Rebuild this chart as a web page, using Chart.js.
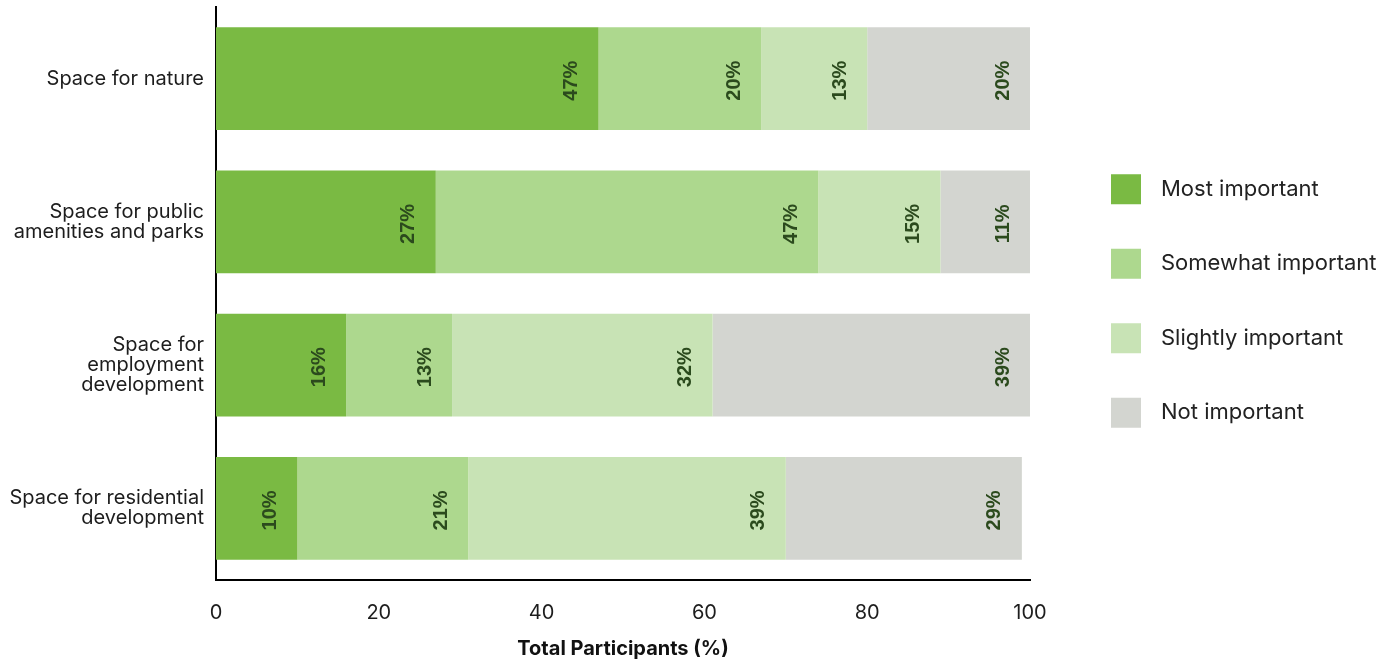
<!DOCTYPE html>
<html><head><meta charset="utf-8">
<script src="https://cdn.jsdelivr.net/npm/chart.js@4.4.1/dist/chart.umd.min.js"></script>
<style>html,body{margin:0;padding:0;background:#fff}#wrap{width:1395px;height:664px;position:relative}</style>
</head><body><div id="wrap"><canvas id="c"></canvas></div>
<script>
const categories = [["Space for nature"],["Space for public","amenities and parks"],["Space for","employment","development"],["Space for residential","development"]];
const seriesNames = ["Most important","Somewhat important","Slightly important","Not important"];
const mostImportant = [47,27,16,10];
const somewhatImportant = [20,47,13,21];
const slightlyImportant = [13,15,32,39];
const notImportant = [20,11,39,29];
const xTickValues = [0,20,40,60,80,100];
const xTitle = "Total Participants (%)";
const colors = ['#7aba43','#add88e','#c8e3b5','#d3d5d0'];

const seriesValues = [mostImportant, somewhatImportant, slightlyImportant, notImportant];

const valueLabels = {
  id: 'valueLabels',
  afterDatasetsDraw(chart) {
    const ctx = chart.ctx;
    ctx.save();
    ctx.font = 'bold 20px "Liberation Sans", Arial, sans-serif';
    ctx.fillStyle = '#2b4a1d';
    ctx.textAlign = 'center';
    ctx.textBaseline = 'middle';
    chart.data.datasets.forEach((ds, i) => {
      const meta = chart.getDatasetMeta(i);
      meta.data.forEach((el, j) => {
        const v = ds.data[j];
        ctx.save();
        ctx.translate(el.x - 27, el.y + 2);
        ctx.rotate(-Math.PI / 2);
        ctx.fillText(v + '%', 0, 0);
        ctx.restore();
      });
    });
    ctx.restore();
  }
};

const sideLegend = {
  id: 'sideLegend',
  afterDraw(chart) {
    const ctx = chart.ctx, ca = chart.chartArea;
    const x0 = ca.right + 81;
    const cy = (ca.top + ca.bottom) / 2 + 7.5;
    const step = 74.5;
    const n = chart.data.datasets.length;
    ctx.save();
    ctx.font = '22px Inter, "Noto Sans", sans-serif';
    ctx.textBaseline = 'middle';
    ctx.textAlign = 'left';
    chart.data.datasets.forEach((ds, i) => {
      const yc = cy + (i - (n - 1) / 2) * step;
      ctx.fillStyle = ds.backgroundColor;
      ctx.fillRect(x0, yc - 15, 30, 30);
      ctx.fillStyle = '#222';
      ctx.fillText(ds.label, x0 + 50, yc);
    });
    ctx.restore();
  }
};

new Chart(document.getElementById('c'), {
  type: 'bar',
  data: {
    labels: categories,
    datasets: seriesNames.map((name, i) => ({
      label: name,
      data: seriesValues[i],
      backgroundColor: colors[i],
      borderWidth: 0,
      barPercentage: 0.717,
      categoryPercentage: 1
    }))
  },
  options: {
    indexAxis: 'y',
    responsive: true,
    maintainAspectRatio: false,
    animation: false,
    layout: { padding: { top: 7, right: 365, left: 0, bottom: 0 } },
    plugins: { legend: { display: false }, tooltip: { enabled: false } },
    scales: {
      x: {
        stacked: true,
        min: 0, max: 100,
        afterBuildTicks: s => { s.ticks = xTickValues.map(v => ({ value: v })); },
        afterFit: s => { s.height = 84; },
        grid: { display: false, drawTicks: false },
        border: { display: true, color: '#000', width: 2 },
        ticks: { padding: 21, color: '#1d1d1d', font: { family: 'Inter, "Noto Sans", sans-serif', size: 20 }, maxRotation: 0 },
        title: { display: true, text: xTitle, color: '#111', font: { family: 'Inter, "Noto Sans", sans-serif', size: 20, weight: 'bold' }, padding: { top: 0, bottom: 3 } }
      },
      y: {
        stacked: true,
        afterFit: s => { s.width = 216; s.paddingTop = 0; s.paddingBottom = 0; },
        grid: { display: false, drawTicks: false },
        border: { display: true, color: '#000', width: 2 },
        ticks: { padding: 12, color: '#1d1d1d', font: { family: 'Inter, "Noto Sans", sans-serif', size: 20, lineHeight: 1.0 } }
      }
    }
  },
  plugins: [valueLabels, sideLegend]
});
</script>
</body></html>
